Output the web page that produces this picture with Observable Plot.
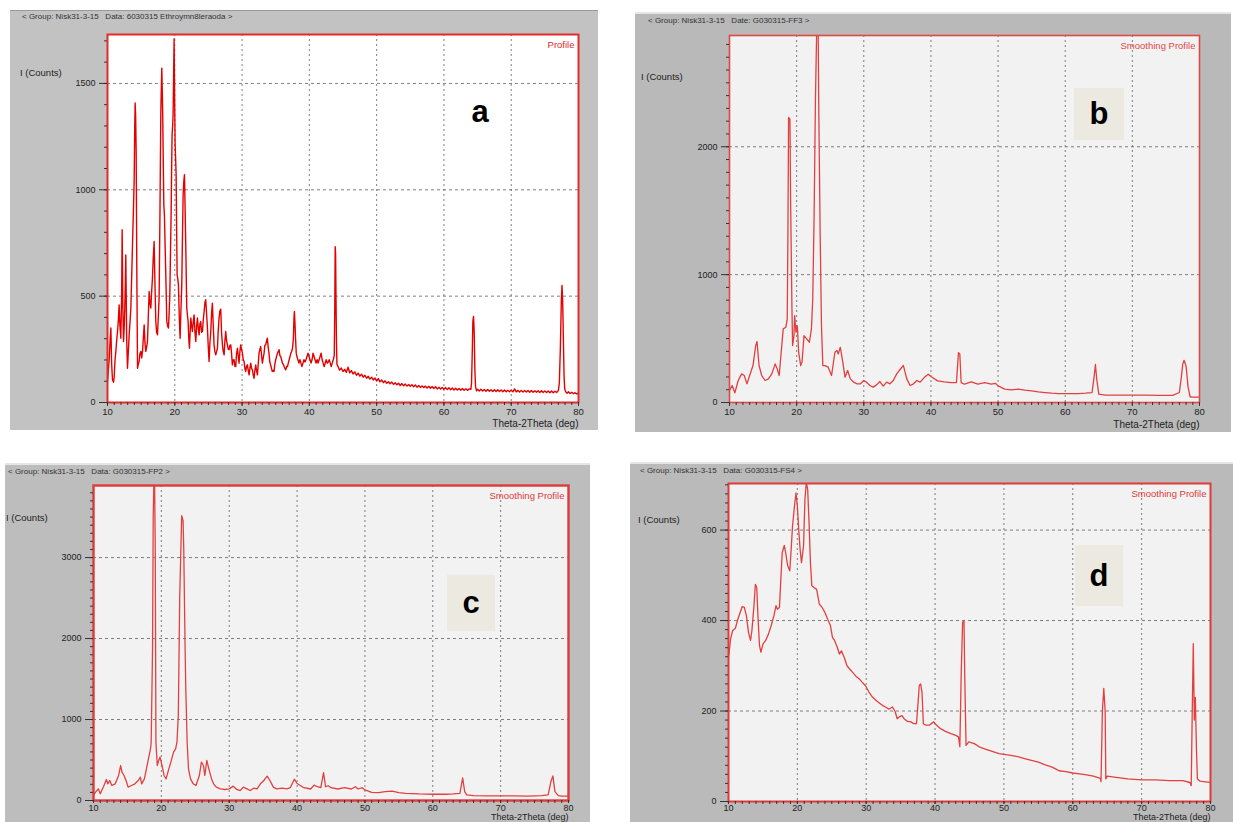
<!DOCTYPE html>
<html>
<head>
<meta charset="utf-8">
<script src="https://cdn.jsdelivr.net/npm/d3@7"></script>
<script src="https://cdn.jsdelivr.net/npm/@observablehq/plot@0.6"></script>
<style>
  html, body { margin: 0; padding: 0; background: #ffffff; }
  #page { position: relative; width: 1233px; height: 822px; overflow: hidden; background: #ffffff; font-family: "Liberation Sans", Arial, sans-serif; }
  .panel { position: absolute; }
  .panel svg { position: absolute; left: 0; top: 0; overflow: visible; }
  .hdr { position: absolute; font-size: 8px; color: #333; white-space: pre; }
  .ylab { position: absolute; font-size: 9.5px; color: #222; white-space: pre; }
  .tag { position: absolute; display: flex; align-items: center; justify-content: center; font-family: "Liberation Sans", Arial, sans-serif; font-weight: bold; font-size: 31px; color: #000; }
</style>
</head>
<body>
<div id="page"></div>
<script>
// ---------------- data ----------------
const xMajorTicks = [10, 20, 30, 40, 50, 60, 70, 80];
const xGridLines = [20, 30, 40, 50, 60, 70];
const xTitle = "Theta-2Theta (deg)";
const yTitle = "I (Counts)";
const headers = [
  "< Group: Nisk31-3-15   Data: 6030315 Ethroymn8leraoda >",
  "< Group: Nisk31-3-15   Date: G030315-FF3 >",
  "< Group: Nisk31-3-15   Data: G030315-FP2 >",
  "< Group: Nisk31-3-15   Data: G030315-FS4 >"
];
const panelLetters = ["a", "b", "c", "d"];
const profileNames = ["Profile", "Smoothing Profile", "Smoothing Profile", "Smoothing Profile"];

const yTicksA = [0, 500, 1000, 1500];
const yTicksB = [0, 1000, 2000];
const yTicksC = [0, 1000, 2000, 3000];
const yTicksD = [0, 200, 400, 600];

// panel a: raw profile [2theta, counts]
const profileA = [
[10.0,99],[10.12,150],[10.25,201],[10.4,300],[10.5,350],[10.62,180],[10.74,107],[10.9,95],[10.99,120],[11.12,200],
[11.24,240],[11.36,290],[11.49,334],[11.6,380],[11.73,459],[11.85,360],[11.98,302],[12.1,500],[12.18,812],[12.28,450],
[12.38,287],[12.48,350],[12.57,444],[12.65,560],[12.72,694],[12.85,300],[12.97,161],[13.1,240],[13.22,318],[13.35,380],
[13.47,444],[13.6,600],[13.71,734],[13.85,900],[13.96,1039],[14.05,1300],[14.11,1408],[14.18,1350],[14.26,1180],[14.36,600],
[14.46,161],[14.58,180],[14.7,193],[14.82,230],[14.95,240],[15.08,210],[15.2,240],[15.32,300],[15.45,365],[15.57,280],
[15.69,240],[15.82,260],[15.94,287],[16.06,400],[16.19,522],[16.3,470],[16.44,444],[16.56,520],[16.68,585],[16.8,680],
[16.93,757],[17.05,560],[17.18,381],[17.3,330],[17.43,318],[17.55,400],[17.67,491],[17.8,900],[17.92,1353],[18.0,1480],
[18.07,1572],[18.15,1450],[18.22,1321],[18.3,1100],[18.37,929],[18.46,880],[18.56,741],[18.7,550],[18.81,381],[18.94,360],
[19.06,350],[19.16,420],[19.26,506],[19.36,700],[19.46,898],[19.53,1100],[19.6,1259],[19.68,1300],[19.75,1353],[19.83,1550],
[19.9,1710],[19.97,1450],[20.05,1212],[20.12,1150],[20.2,1071],[20.28,800],[20.35,600],[20.45,580],[20.54,553],[20.67,400],
[20.79,302],[20.9,420],[21.04,553],[21.14,780],[21.24,977],[21.34,1040],[21.44,1071],[21.54,900],[21.63,741],[21.7,600],
[21.78,444],[21.88,410],[21.98,381],[22.08,300],[22.18,255],[22.28,330],[22.38,397],[22.5,360],[22.62,334],[22.75,380],
[22.87,412],[23.0,330],[23.12,287],[23.25,360],[23.37,397],[23.49,350],[23.61,318],[23.74,370],[23.86,381],[23.98,330],
[24.11,334],[24.24,390],[24.36,428],[24.48,470],[24.6,483],[24.72,420],[24.85,350],[24.98,260],[25.1,193],[25.22,280],
[25.35,334],[25.47,420],[25.59,467],[25.72,360],[25.84,271],[25.96,240],[26.09,224],[26.22,240],[26.34,255],[26.46,340],
[26.58,397],[26.7,430],[26.83,439],[26.95,330],[27.08,271],[27.2,240],[27.33,224],[27.45,290],[27.57,334],[27.7,290],
[27.82,271],[27.95,250],[28.07,248],[28.2,270],[28.32,271],[28.44,230],[28.56,177],[28.68,200],[28.81,201],[28.94,170],
[29.06,169],[29.18,230],[29.31,255],[29.43,220],[29.55,185],[29.68,240],[29.8,271],[29.92,250],[30.05,232],[30.18,200],
[30.3,193],[30.42,160],[30.54,146],[30.66,170],[30.79,177],[30.92,150],[31.04,130],[31.16,160],[31.29,185],[31.41,160],
[31.53,154],[31.66,130],[31.78,114],[31.9,150],[32.03,177],[32.15,150],[32.28,130],[32.4,180],[32.52,232],[32.65,250],
[32.77,263],[32.9,220],[33.02,185],[33.14,210],[33.27,232],[33.39,270],[33.51,271],[33.64,290],[33.76,302],[33.88,260],
[34.0,232],[34.12,190],[34.25,177],[34.37,160],[34.5,146],[34.62,150],[34.75,146],[34.87,180],[35.0,201],[35.12,216],
[35.25,230],[35.37,240],[35.5,248],[35.62,220],[35.75,216],[35.87,201],[36.0,185],[36.12,180],[36.25,169],[36.37,160],
[36.5,154],[36.62,170],[36.75,169],[36.87,185],[37.0,201],[37.12,216],[37.25,232],[37.37,240],[37.5,255],[37.62,300],
[37.72,400],[37.78,428],[37.85,380],[37.95,300],[38.05,232],[38.15,216],[38.3,201],[38.45,185],[38.6,201],[38.75,185],
[38.9,169],[39.05,185],[39.2,201],[39.35,190],[39.5,201],[39.65,216],[39.8,232],[39.95,216],[40.1,201],[40.25,185],
[40.4,201],[40.55,232],[40.7,216],[40.85,201],[41.0,185],[41.15,201],[41.3,185],[41.45,201],[41.6,216],[41.75,232],
[41.9,201],[42.05,185],[42.2,169],[42.35,185],[42.5,201],[42.65,185],[42.8,190],[42.95,201],[43.1,185],[43.25,169],
[43.4,185],[43.55,201],[43.7,220],[43.78,450],[43.84,733],[43.9,700],[43.96,491],[44.02,300],[44.1,180],[44.25,170],
[44.5,152],[44.75,162],[45.0,146],[45.25,156],[45.5,142],[45.75,166],[46.0,140],[46.25,150],[46.5,134],[46.75,144],
[47.0,128],[47.25,138],[47.5,124],[47.75,133],[48.0,119],[48.25,128],[48.5,114],[48.75,123],[49.0,110],[49.25,119],
[49.5,106],[49.75,115],[50.0,101],[50.25,112],[50.5,97],[50.75,106],[51.0,93],[51.25,102],[51.5,90],[51.75,98],
[52.0,88],[52.25,96],[52.5,85],[52.75,93],[53.0,83],[53.25,91],[53.5,80],[53.75,89],[54.0,79],[54.25,87],
[54.5,77],[54.75,85],[55.0,76],[55.25,84],[55.5,74],[55.75,82],[56.0,72],[56.25,80],[56.5,71],[56.75,78],
[57.0,70],[57.25,77],[57.5,68],[57.75,76],[58.0,67],[58.25,75],[58.5,66],[58.75,74],[59.0,64],[59.25,72],
[59.5,63],[59.75,71],[60.0,62],[60.25,70],[60.5,61],[60.75,69],[61.0,60],[61.25,68],[61.5,59],[61.75,67],
[62.0,59],[62.25,66],[62.5,58],[62.75,66],[63.0,57],[63.25,65],[63.5,57],[63.75,64],[64.0,62],[64.1,90],
[64.2,220],[64.3,380],[64.4,405],[64.5,330],[64.6,150],[64.7,75],[64.85,55],[65.0,62],[65.25,54],[65.5,62],
[65.75,54],[66.0,61],[66.25,53],[66.5,61],[66.75,53],[67.0,60],[67.25,52],[67.5,60],[67.75,52],[68.0,60],
[68.25,52],[68.5,59],[68.75,51],[69.0,59],[69.25,51],[69.5,58],[69.75,51],[70.0,58],[70.25,50],[70.5,64],
[70.75,50],[71.0,57],[71.25,49],[71.5,57],[71.75,49],[72.0,56],[72.25,49],[72.5,56],[72.75,48],[73.0,56],
[73.25,48],[73.5,55],[73.75,48],[74.0,55],[74.25,47],[74.5,55],[74.75,47],[75.0,54],[75.25,47],[75.5,54],
[75.75,46],[76.0,54],[76.25,46],[76.5,53],[76.75,47],[77.0,56],[77.15,90],[77.3,250],[77.45,480],[77.55,550],
[77.65,470],[77.75,300],[77.85,130],[77.95,65],[78.1,50],[78.3,44],[78.5,50],[78.75,42],[79.0,48],[79.25,41],
[79.5,46],[79.75,40],[80.0,44]
];

// panel b: smoothed profile
const profileB = [
[10.0,94],[10.4,133],[10.8,76],[11.3,172],[11.8,224],[12.2,211],[12.6,146],[13.0,211],[13.5,289],[13.9,445],
[14.1,477],[14.4,289],[14.8,211],[15.3,172],[15.8,185],[16.3,224],[16.8,302],[17.1,263],[17.4,211],[17.7,393],
[18.0,576],[18.4,589],[18.6,654],[18.7,1331],[18.8,2229],[19.0,2216],[19.1,1591],[19.3,732],[19.4,445],[19.6,523],
[19.7,680],[19.9,549],[20.1,602],[20.3,393],[20.6,289],[20.8,315],[21.1,523],[21.5,497],[21.9,471],[22.2,576],
[22.4,810],[22.6,1461],[22.8,2372],[23.0,2950],[23.2,2950],[23.3,2268],[23.5,1331],[23.7,602],[23.9,289],[24.2,289],
[24.7,276],[25.2,211],[25.7,393],[26.0,406],[26.2,380],[26.5,432],[26.8,341],[27.2,198],[27.6,250],[28.0,185],
[28.5,159],[29.0,146],[29.5,146],[30.0,172],[30.4,159],[30.9,133],[31.4,120],[31.9,138],[32.4,164],[32.9,128],
[33.4,159],[33.9,146],[34.4,172],[34.9,224],[35.4,258],[35.9,289],[36.4,185],[36.9,133],[37.4,146],[37.9,172],
[38.4,159],[39.0,195],[39.6,221],[40.0,203],[41.0,169],[42.0,161],[43.0,156],[43.8,156],[44.1,390],[44.3,380],
[44.5,156],[45.0,143],[46.0,161],[47.0,143],[48.0,156],[49.0,143],[49.6,150],[50.0,130],[51.0,104],[52.0,99],
[53.0,104],[54.0,96],[55.0,91],[56.0,83],[57.0,78],[58.0,73],[59.0,70],[60.0,70],[61.0,70],[62.0,70],
[63.0,73],[64.0,78],[64.3,200],[64.5,297],[64.7,180],[65.0,65],[66.0,57],[68.0,57],[70.0,57],[72.0,57],
[74.0,55],[76.0,55],[77.0,78],[77.3,200],[77.5,300],[77.7,330],[78.0,286],[78.3,120],[78.6,45],[79.0,42],[80.0,42]
];

// panel c: smoothed profile
const profileC = [
[10.0,62],[10.3,103],[10.7,144],[11.0,82],[11.5,177],[11.9,259],[12.1,206],[12.4,247],[12.7,185],[13.2,206],
[13.7,309],[14.0,432],[14.2,350],[14.5,309],[14.8,247],[15.1,165],[15.6,185],[16.1,206],[16.6,247],[16.9,288],
[17.1,206],[17.5,267],[17.8,391],[18.1,514],[18.4,638],[18.5,720],[18.7,1872],[18.8,3518],[18.9,3950],[19.0,3950],
[19.1,3107],[19.2,720],[19.4,432],[19.6,494],[19.8,535],[20.1,432],[20.4,309],[20.7,267],[21.1,391],[21.4,473],
[21.8,597],[22.1,638],[22.3,720],[22.5,1049],[22.7,2490],[22.9,3189],[23.0,3518],[23.2,3457],[23.3,3107],[23.5,1872],
[23.6,1379],[23.8,720],[24.0,391],[24.3,267],[24.7,206],[25.1,185],[25.6,309],[25.9,473],[26.2,432],[26.4,309],
[26.7,494],[27.0,391],[27.4,267],[27.7,206],[28.1,165],[28.7,144],[29.4,136],[30.0,144],[30.6,177],[31.1,136],
[31.6,123],[32.1,165],[32.6,144],[33.1,123],[33.6,152],[34.1,144],[34.6,206],[35.1,247],[35.6,300],[36.0,247],
[36.5,165],[37.0,144],[37.8,152],[38.5,144],[39.0,158],[39.6,263],[40.0,210],[41.0,158],[42.0,142],[42.5,190],
[43.0,170],[43.5,158],[43.9,344],[44.2,170],[44.6,182],[45.0,158],[46.0,142],[47.0,158],[48.0,142],[48.6,170],
[49.0,142],[49.6,158],[50.0,130],[51.0,101],[52.0,97],[53.0,109],[54.0,117],[55.0,97],[56.0,89],[57.0,85],
[58.0,81],[60.0,77],[62.0,77],[63.0,81],[64.0,89],[64.4,279],[64.7,109],[65.0,69],[66.0,61],[68.0,57],
[70.0,57],[72.0,57],[74.0,53],[76.0,61],[77.0,69],[77.4,231],[77.7,304],[78.0,109],[78.5,61],[79.0,53],[80.0,53]
];

// panel d: smoothed profile
const profileD = [
[10.0,320],[10.1,330],[10.3,359],[10.6,378],[11.0,383],[11.3,400],[11.6,414],[12.0,431],[12.3,429],[12.6,411],
[12.9,374],[13.2,356],[13.4,378],[13.7,433],[13.9,480],[14.1,473],[14.3,403],[14.5,345],[14.7,330],[15.0,348],
[15.4,356],[15.8,370],[16.2,389],[16.6,411],[16.9,433],[17.1,425],[17.4,429],[17.6,491],[17.8,550],[18.1,566],
[18.3,550],[18.6,521],[18.9,510],[19.1,557],[19.3,609],[19.6,656],[19.8,682],[20.0,653],[20.2,601],[20.4,557],
[20.6,528],[20.9,565],[21.1,668],[21.3,705],[21.5,690],[21.7,616],[21.9,528],[22.1,477],[22.4,473],[22.8,469],
[23.2,436],[23.6,429],[24.0,418],[24.4,403],[24.8,389],[25.1,363],[25.4,356],[25.8,341],[26.1,326],[26.4,333],
[26.8,319],[27.2,300],[27.6,293],[28.0,286],[28.5,277],[29.0,271],[29.4,264],[29.9,256],[30.4,242],[30.9,231],
[31.4,224],[31.9,218],[32.4,212],[32.8,209],[33.3,204],[33.8,209],[34.2,199],[34.5,183],[34.8,187],[35.2,190],
[35.5,183],[36.0,177],[36.5,176],[36.9,172],[37.3,172],[37.5,212],[37.7,256],[37.9,260],[38.1,242],[38.3,172],
[38.6,169],[39.2,169],[39.8,176],[40.2,169],[40.8,161],[41.5,155],[42.3,150],[43.0,146],[43.4,143],[43.6,121],
[43.8,286],[44.0,396],[44.2,400],[44.3,286],[44.5,124],[44.9,132],[45.7,128],[46.4,121],[47.3,116],[48.3,111],
[49.3,106],[50.0,104],[51.0,102],[52.0,99],[53.0,95],[54.0,91],[55.0,87],[56.0,81],[57.0,76],[57.5,72],
[58.0,68],[59.0,66],[60.0,63],[61.0,61],[62.0,59],[63.0,56],[64.0,51],[64.1,44],[64.3,200],[64.5,250],
[64.7,200],[64.8,50],[65.0,56],[66.0,54],[68.0,50],[70.0,48],[72.0,48],[74.0,46],[76.0,46],[77.0,42],
[77.2,35],[77.35,200],[77.5,349],[77.65,180],[77.8,230],[77.95,120],[78.1,50],[78.5,45],[79.0,44],[80.0,42]
];

// ---------------- layout / style ----------------
const panels = [
  {data: profileA, yMax: 1730, yMajor: yTicksA, yMinorStep: 100,
   box: [10, 10, 588, 420], m: [97, 23, 20, 29], gray: "#c2c2c2", plotBg: "#ffffff",
   line: "#e50000", lineW: 1.4, frame: "#e42a2a", frameW: 2, titleDy: 24, titleFs: 10, tickFs: 9.5, tickPad: 2, xTick: 4,
   hdr: [22, 12], ylab: [20, 67], tag: {x: 458, y: 88, w: 44, h: 48, bg: "transparent"}},
  {data: profileB, yMax: 2870, yMajor: yTicksB, yMinorStep: 100,
   box: [635, 12, 596, 420], m: [94, 21, 32, 32], gray: "#b9b9b9", plotBg: "#f2f2f2",
   line: "#e2403f", lineW: 1.3, frame: "#e04848", frameW: 1.6, titleDy: 25, titleFs: 10, tickFs: 9.5, tickPad: 2, xTick: 4,
   hdr: [648, 16], ylab: [641, 71], tag: {x: 1074, y: 88, w: 50, h: 52, bg: "#ece9e0"}},
  {data: profileC, yMax: 3890, yMajor: yTicksC, yMinorStep: 100,
   box: [5, 463, 585, 359], m: [88, 20, 22, 24], gray: "#bdbdbd", plotBg: "#f2f2f2",
   line: "#e2403f", lineW: 1.3, frame: "#e03a3a", frameW: 2.4, titleDy: 19, titleFs: 9, tickFs: 9, tickPad: 1, xTick: 3,
   hdr: [8, 467], ylab: [6, 512], tag: {x: 447, y: 575, w: 48, h: 56, bg: "#ece9e0"}},
  {data: profileD, yMax: 703, yMajor: yTicksD, yMinorStep: 20,
   box: [630, 462, 603, 360], m: [98, 19, 23, 23], gray: "#bababa", plotBg: "#f2f2f2",
   line: "#e2403f", lineW: 1.3, frame: "#e03a3a", frameW: 2, titleDy: 18, titleFs: 9, tickFs: 9, tickPad: 0, xTick: 3,
   hdr: [640, 466], ylab: [638, 514], tag: {x: 1075, y: 545, w: 48, h: 61, bg: "#ece9e0"}}
];

const page = document.getElementById("page");
const xMinorTicks = d3.range(10, 81, 1);
const plainFormat = d => String(d);

panels.forEach((p, i) => {
  const box = document.createElement("div");
  box.className = "panel";
  Object.assign(box.style, {
    left: p.box[0] + "px", top: p.box[1] + "px",
    width: p.box[2] + "px", height: p.box[3] + "px",
    background: p.gray, borderTop: i === 0 ? "1px solid #9a9a9a" : "2px solid #e6e6e6", boxSizing: "border-box"
  });
  const yMinor = d3.range(0, p.yMax, p.yMinorStep);
  const yGrid = p.yMajor.filter(v => v > 0);
  const svg = Plot.plot({
    width: p.box[2], height: p.box[3],
    marginLeft: p.m[0], marginTop: p.m[1], marginRight: p.m[2], marginBottom: p.m[3],
    style: {background: "transparent", overflow: "visible", fontFamily: "Liberation Sans, Arial, sans-serif", fontSize: "9px", color: "#222"},
    x: {domain: [10, 80], axis: null},
    y: {domain: [0, p.yMax], axis: null},
    marks: [
      Plot.frame({fill: p.plotBg, stroke: null}),
      Plot.gridX(xGridLines, {stroke: "#555", strokeOpacity: 0.75, strokeWidth: 1, strokeDasharray: "2,3"}),
      Plot.gridY(yGrid, {stroke: "#555", strokeOpacity: 0.75, strokeWidth: 1, strokeDasharray: "3,3"}),
      Plot.line(p.data, {x: d => d[0], y: d => d[1], stroke: p.line, strokeWidth: p.lineW, clip: true}),
      Plot.frame({stroke: p.frame, strokeWidth: p.frameW}),
      Plot.axisY(yMinor, {tickSize: 3, tickFormat: () => "", stroke: "#333", label: null}),
      Plot.axisY(p.yMajor, {tickSize: 8, tickPadding: 4, tickFormat: plainFormat, stroke: "#333", fill: "#222", label: null, fontSize: 9}),
      Plot.axisX(xMinorTicks, {tickSize: 3, tickFormat: () => "", stroke: "#333", label: null}),
      Plot.axisX(xMajorTicks, {tickSize: p.xTick, tickPadding: p.tickPad, tickFormat: plainFormat, stroke: "#333", fill: "#222", label: null, fontSize: p.tickFs}),
      Plot.text([profileNames[i]], {frameAnchor: "top-right", dx: -4, dy: 7, fill: p.frame, fontSize: 9.5}),
      Plot.text([xTitle], {frameAnchor: "bottom-right", dx: 0, dy: p.titleDy, fill: "#222", fontSize: p.titleFs})
    ]
  });
  box.appendChild(svg);
  page.appendChild(box);

  const hdr = document.createElement("div");
  hdr.className = "hdr";
  hdr.textContent = headers[i];
  Object.assign(hdr.style, {left: p.hdr[0] + "px", top: p.hdr[1] + "px"});
  page.appendChild(hdr);

  const yl = document.createElement("div");
  yl.className = "ylab";
  yl.textContent = yTitle;
  Object.assign(yl.style, {left: p.ylab[0] + "px", top: p.ylab[1] + "px"});
  page.appendChild(yl);

  const tag = document.createElement("div");
  tag.className = "tag";
  tag.textContent = panelLetters[i];
  Object.assign(tag.style, {left: p.tag.x + "px", top: p.tag.y + "px", width: p.tag.w + "px", height: p.tag.h + "px", background: p.tag.bg});
  page.appendChild(tag);
});
</script>
</body>
</html>
